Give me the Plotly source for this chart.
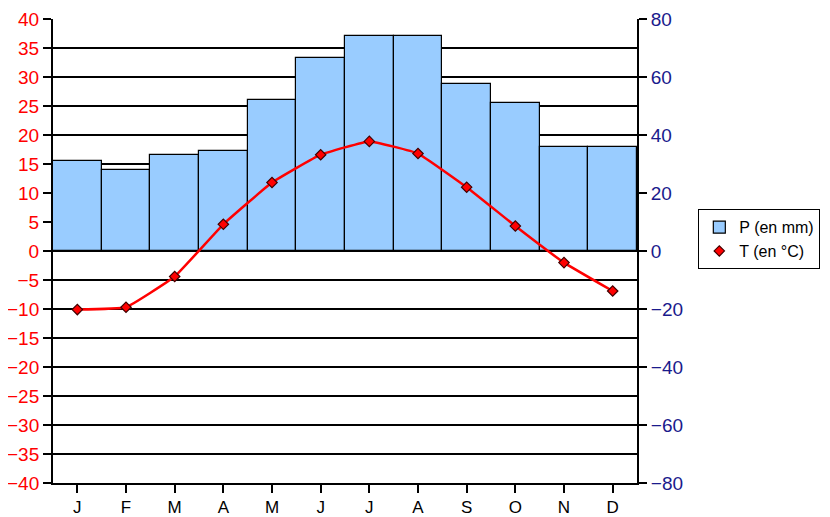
import plotly.graph_objects as go

months = ["J", "F", "M", "A", "M", "J", "J", "A", "S", "O", "N", "D"]
precip_mm = [31, 28, 33, 34.5, 52, 66.5, 74, 74, 57.5, 51, 35.8, 35.8]
temp_c = [-10.1, -9.7, -4.4, 4.6, 11.8, 16.6, 18.9, 16.8, 11.0, 4.3, -2.0, -6.9]

x = list(range(len(months)))

fig = go.Figure()
fig.add_trace(go.Bar(
    x=x, y=precip_mm, name="P (en mm)", yaxis="y",
    marker=dict(color="#99CCFF", line=dict(color="black", width=1.2)),
))
fig.add_trace(go.Scatter(
    x=x, y=temp_c, name="T (en °C)", yaxis="y2", mode="lines",
    line=dict(color="#FF0000", width=2.5, shape="spline", smoothing=0.3),
    showlegend=False, hoverinfo="skip",
))
fig.add_trace(go.Scatter(
    x=x, y=temp_c, name="T (en °C)", yaxis="y2", mode="markers",
    marker=dict(symbol="diamond", size=8, color="#FF0000",
                line=dict(color="#400000", width=1.2)),
))

fig.update_layout(
    width=850, height=517,
    margin=dict(l=45, r=221, t=11, b=42),
    paper_bgcolor="white", plot_bgcolor="white",
    font=dict(family="Liberation Sans, Arial, sans-serif", size=19, color="black"),
    bargap=0,
    showlegend=True,
    legend=dict(x=1.105, y=0.59, xanchor="left", yanchor="top",
                bordercolor="black", borderwidth=1, bgcolor="white",
                font=dict(size=16), traceorder="normal",
                tracegroupgap=2, itemwidth=30),
    xaxis=dict(
        tickmode="array", tickvals=x, ticktext=months,
        range=[-0.5, 11.5], showgrid=False, zeroline=False, automargin=False,
        showline=True, linecolor="black", linewidth=2,
        ticks="outside", tickson="boundaries", ticklen=8, tickcolor="black",
        tickwidth=1.5, tickfont=dict(size=17, color="black"),
    ),
    yaxis=dict(
        range=[-80, 80], dtick=20, side="right", automargin=False,
        showgrid=False, zeroline=False,
        showline=True, linecolor="black", linewidth=2,
        ticks="outside", ticklen=8, tickcolor="black", tickwidth=1.5,
        tickfont=dict(size=19, color="#1a1a8c"),
    ),
    yaxis2=dict(
        range=[-40, 40], dtick=5, side="left", overlaying="y", automargin=False,
        showgrid=True, gridcolor="black", gridwidth=1.5,
        zeroline=True, zerolinecolor="black", zerolinewidth=2,
        showline=True, linecolor="black", linewidth=2,
        ticks="outside", ticklen=8, tickcolor="black", tickwidth=1.5,
        tickfont=dict(size=19, color="#FF0000"),
    ),
)

fig.write_html("out.html")
